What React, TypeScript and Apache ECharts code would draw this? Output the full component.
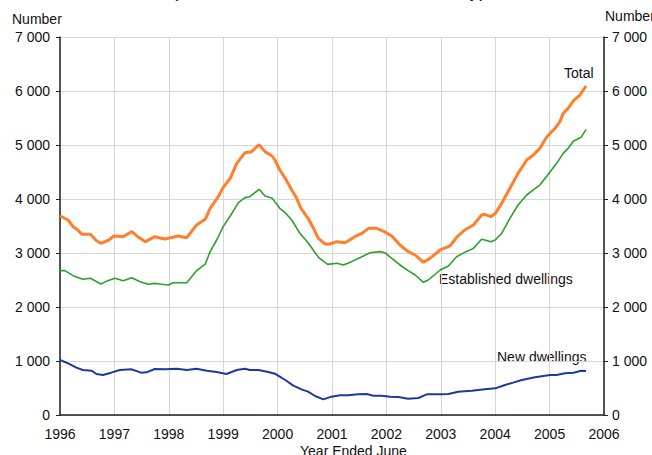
import React, { useEffect, useRef } from "react";
import * as echarts from "echarts";

// Decimal year positions and values (number of dwellings)
const totalYears = [1996.0, 1996.15, 1996.24, 1996.33, 1996.4, 1996.56, 1996.67, 1996.75, 1996.9, 1996.99, 1997.16, 1997.32, 1997.43, 1997.57, 1997.74, 1997.86, 1997.93, 1998.17, 1998.33, 1998.51, 1998.67, 1998.76, 1998.91, 1999.0, 1999.13, 1999.25, 1999.4, 1999.51, 1999.66, 1999.77, 1999.9, 1999.95, 2000.04, 2000.14, 2000.26, 2000.35, 2000.43, 2000.56, 2000.66, 2000.75, 2000.87, 2000.96, 2001.09, 2001.24, 2001.42, 2001.55, 2001.67, 2001.82, 2001.94, 2002.1, 2002.25, 2002.4, 2002.53, 2002.68, 2002.8, 2002.99, 2003.17, 2003.29, 2003.44, 2003.6, 2003.75, 2003.81, 2003.92, 2004.0, 2004.12, 2004.27, 2004.42, 2004.58, 2004.7, 2004.82, 2004.95, 2005.1, 2005.19, 2005.25, 2005.34, 2005.44, 2005.56, 2005.67];
const totalValues = [3685, 3611, 3487, 3426, 3346, 3346, 3228, 3180, 3241, 3315, 3302, 3395, 3302, 3210, 3302, 3272, 3259, 3315, 3284, 3519, 3623, 3827, 4043, 4216, 4383, 4660, 4858, 4870, 5006, 4877, 4796, 4722, 4537, 4383, 4167, 4012, 3827, 3642, 3457, 3272, 3167, 3167, 3210, 3191, 3302, 3364, 3457, 3457, 3407, 3315, 3148, 3025, 2963, 2827, 2901, 3056, 3130, 3290, 3426, 3519, 3704, 3716, 3673, 3730, 3920, 4198, 4475, 4722, 4815, 4938, 5154, 5309, 5432, 5586, 5679, 5821, 5926, 6093];

const establishedYears = [1996.0, 1996.09, 1996.24, 1996.42, 1996.56, 1996.75, 1996.88, 1997.01, 1997.16, 1997.32, 1997.47, 1997.62, 1997.74, 1997.86, 1997.99, 1998.08, 1998.33, 1998.51, 1998.67, 1998.76, 1998.88, 1999.0, 1999.13, 1999.28, 1999.4, 1999.49, 1999.66, 1999.77, 1999.9, 1999.95, 2000.04, 2000.14, 2000.26, 2000.41, 2000.56, 2000.75, 2000.92, 2001.09, 2001.21, 2001.36, 2001.55, 2001.7, 2001.88, 2001.97, 2002.1, 2002.25, 2002.4, 2002.53, 2002.68, 2002.77, 2002.99, 2003.14, 2003.29, 2003.44, 2003.6, 2003.75, 2003.81, 2003.92, 2004.0, 2004.12, 2004.27, 2004.42, 2004.58, 2004.7, 2004.82, 2004.95, 2005.13, 2005.25, 2005.34, 2005.44, 2005.58, 2005.67];
const establishedValues = [2673, 2673, 2580, 2513, 2531, 2426, 2488, 2531, 2488, 2543, 2469, 2420, 2438, 2420, 2407, 2450, 2450, 2673, 2796, 3025, 3241, 3488, 3685, 3932, 4025, 4043, 4179, 4056, 4012, 3951, 3827, 3747, 3611, 3364, 3191, 2920, 2790, 2809, 2778, 2840, 2932, 3006, 3025, 3006, 2901, 2778, 2673, 2593, 2457, 2500, 2685, 2759, 2932, 3012, 3086, 3253, 3241, 3210, 3241, 3364, 3642, 3889, 4074, 4167, 4259, 4426, 4660, 4846, 4938, 5074, 5142, 5290];

const newYears = [1996.0, 1996.15, 1996.3, 1996.42, 1996.58, 1996.67, 1996.79, 1996.94, 1997.1, 1997.31, 1997.49, 1997.59, 1997.74, 1997.93, 1998.15, 1998.33, 1998.51, 1998.7, 1998.88, 1999.06, 1999.25, 1999.4, 1999.49, 1999.65, 1999.83, 1999.95, 2000.04, 2000.14, 2000.29, 2000.44, 2000.56, 2000.69, 2000.84, 2000.99, 2001.15, 2001.3, 2001.48, 2001.64, 2001.76, 2001.91, 2002.07, 2002.22, 2002.4, 2002.59, 2002.74, 2002.99, 2003.14, 2003.32, 2003.57, 2003.81, 2004.0, 2004.18, 2004.33, 2004.49, 2004.73, 2005.01, 2005.13, 2005.28, 2005.44, 2005.58, 2005.67];
const newValues = [1019, 957, 877, 833, 821, 759, 741, 784, 833, 846, 784, 790, 852, 846, 858, 833, 858, 821, 796, 759, 833, 858, 833, 833, 796, 765, 710, 648, 543, 475, 432, 352, 290, 340, 364, 364, 383, 389, 358, 358, 340, 333, 302, 315, 383, 383, 389, 432, 451, 475, 494, 556, 599, 648, 698, 741, 741, 772, 784, 821, 815];

const seriesNames = ["Total", "Established dwellings", "New dwellings"];
const seriesColors = ["#ff7f2a", "#2ca02c", "#1c3a9c"];

const xMin = 1996;
const xMax = 2006;
const yMax = 7000;
const yStep = 1000;

const FONT = "'Liberation Sans', Arial, sans-serif";

const pairs = (xs: number[], ys: number[]) => xs.map((x, i) => [x, ys[i]]);
const fmtThousands = (v: number) =>
  v >= 1000 ? `${Math.floor(v / 1000)} ${String(v % 1000).padStart(3, "0")}` : String(v);

export default function App() {
  const ref = useRef<HTMLDivElement>(null);

  useEffect(() => {
    if (!ref.current) return;
    const chart = echarts.init(ref.current, undefined, { renderer: "svg" });
    const yAxisCommon = {
      type: "value",
      min: 0,
      max: yMax,
      interval: yStep,
      axisLine: { show: true, lineStyle: { color: "#222", width: 1.5 } },
      axisTick: { show: true, length: 4, lineStyle: { color: "#222" } },
      axisLabel: {
        color: "#111",
        fontSize: 14,
        fontFamily: FONT,
        formatter: (v: number) => fmtThousands(v),
      },
    };
    chart.setOption({
      animation: false,
      backgroundColor: "#ffffff",
      textStyle: { fontFamily: FONT },
      grid: { left: 60, right: 48, top: 37, bottom: 40, outerBoundsMode: "none" },
      xAxis: {
        type: "value",
        min: xMin,
        max: xMax,
        interval: 1,
        axisLine: { show: true, onZero: false, lineStyle: { color: "#222", width: 1.5 } },
        axisTick: { show: false },
        axisLabel: {
          color: "#111",
          fontSize: 14,
          fontFamily: FONT,
          margin: 12,
          formatter: (v: number) => String(Math.round(v)),
        },
        splitLine: { show: true, lineStyle: { color: "#d6d6d6", width: 1 } },
      },
      yAxis: [
        {
          ...yAxisCommon,
          position: "left",
          axisLabel: { ...yAxisCommon.axisLabel, margin: 10 },
          splitLine: { show: true, lineStyle: { color: "#d6d6d6", width: 1 } },
        },
        {
          ...yAxisCommon,
          position: "right",
          axisLabel: { ...yAxisCommon.axisLabel, margin: 8 },
          splitLine: { show: false },
        },
      ],
      series: [
        {
          name: seriesNames[0],
          type: "line",
          data: pairs(totalYears, totalValues),
          showSymbol: false,
          lineStyle: { color: seriesColors[0], width: 3 },
          itemStyle: { color: seriesColors[0] },
          z: 3,
        },
        {
          name: seriesNames[1],
          type: "line",
          data: pairs(establishedYears, establishedValues),
          showSymbol: false,
          lineStyle: { color: seriesColors[1], width: 1.6 },
          itemStyle: { color: seriesColors[1] },
          z: 2,
        },
        {
          name: seriesNames[2],
          type: "line",
          data: pairs(newYears, newValues),
          showSymbol: false,
          lineStyle: { color: seriesColors[2], width: 2 },
          itemStyle: { color: seriesColors[2] },
          z: 2,
        },
      ],
      graphic: [
        {
          type: "text",
          left: 172,
          top: -19,
          style: { text: "(Number of Loans Financed Monthly)", fontSize: 19, fontFamily: FONT, fill: "#111" },
        },
        { type: "text", left: 12, top: 12, style: { text: "Number", fontSize: 14, fontFamily: FONT, fill: "#111" } },
        { type: "text", left: 605, top: 9, style: { text: "Number", fontSize: 14, fontFamily: FONT, fill: "#111" } },
        { type: "text", left: 300, top: 444, style: { text: "Year Ended June", fontSize: 14, fontFamily: FONT, fill: "#111" } },
        { type: "text", left: 564, top: 66, style: { text: seriesNames[0], fontSize: 14, fontFamily: FONT, fill: "#111" } },
        { type: "text", left: 439, top: 272, style: { text: seriesNames[1], fontSize: 14, fontFamily: FONT, fill: "#111" } },
        { type: "text", left: 497, top: 350, style: { text: seriesNames[2], fontSize: 14, fontFamily: FONT, fill: "#111" } },
      ],
    });
    return () => chart.dispose();
  }, []);

  return (
    <div
      ref={ref}
      style={{ position: "fixed", left: 0, top: 0, width: 652, height: 455, background: "#fff" }}
    />
  );
}
